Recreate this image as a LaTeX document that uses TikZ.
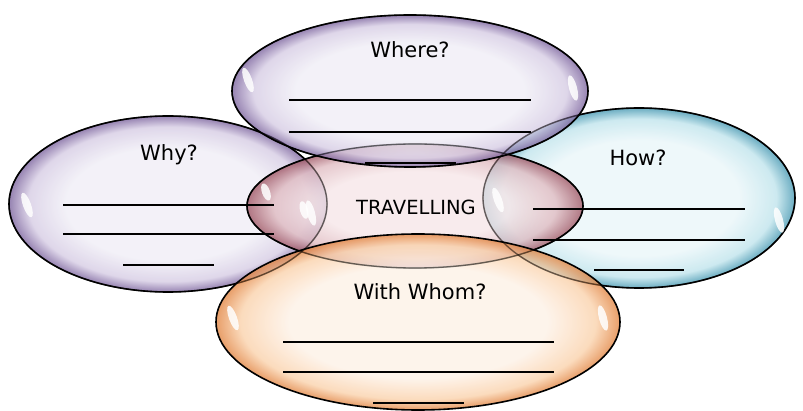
\documentclass[tikz,border=0pt]{standalone}
\usepackage{fontspec}
\setmainfont{DejaVu Sans}
\usetikzlibrary{shapes.geometric}

% bubble colours: light centre, mid tone, darker rim
\definecolor{purpin}{RGB}{240,238,246}
\definecolor{purmid}{RGB}{214,204,228}
\definecolor{purout}{RGB}{124,100,158}
\definecolor{tealin}{RGB}{234,246,249}
\definecolor{tealmid}{RGB}{192,228,236}
\definecolor{tealout}{RGB}{70,152,178}
\definecolor{redin}{RGB}{246,230,232}
\definecolor{redmid}{RGB}{224,188,194}
\definecolor{redout}{RGB}{160,88,102}
\definecolor{orgin}{RGB}{253,241,230}
\definecolor{orgmid}{RGB}{250,210,172}
\definecolor{orgout}{RGB}{226,134,68}

% the ellipse border sits at 25bp of the shading radius
\pgfdeclareradialshading{purbubble}{\pgfpoint{0bp}{0bp}}{color(0bp)=(purpin); color(16bp)=(purpin); color(22bp)=(purmid); color(25bp)=(purout); color(50bp)=(purout)}
\pgfdeclareradialshading{tealbubble}{\pgfpoint{0bp}{0bp}}{color(0bp)=(tealin); color(16bp)=(tealin); color(22bp)=(tealmid); color(25bp)=(tealout); color(50bp)=(tealout)}
\pgfdeclareradialshading{redbubble}{\pgfpoint{0bp}{0bp}}{color(0bp)=(redin); color(14bp)=(redin); color(21bp)=(redmid); color(25bp)=(redout); color(50bp)=(redout)}
\pgfdeclareradialshading{orgbubble}{\pgfpoint{0bp}{0bp}}{color(0bp)=(orgin); color(16bp)=(orgin); color(22bp)=(orgmid); color(25bp)=(orgout); color(50bp)=(orgout)}

\tikzset{
  bubble/.style={ellipse, draw=black, line width=1.6pt, shade, shading=#1,
    fill opacity=0.8, inner sep=0pt, outer sep=0pt},
  rim/.style={ellipse, draw=black, draw opacity=0.5, line width=1.3pt,
    inner sep=0pt, outer sep=0pt},
  glint/.style={ellipse, fill=white, fill opacity=0.85, draw=none, inner sep=0pt,
    minimum width=8pt, minimum height=26pt},
  blank/.style={line width=1.8pt, black},
  label/.style={font=\fontsize{21}{24}\selectfont, text=black}
}

\begin{document}
\begin{tikzpicture}[x=1pt, y=-1pt]
\useasboundingbox (0,0) rectangle (803,411);

% the five bubbles
\node[bubble=purbubble, minimum width=318pt, minimum height=176pt] (why) at (168,204) {};
\node[bubble=tealbubble, minimum width=312pt, minimum height=180pt] (how) at (639,198) {};
\node[bubble=redbubble, minimum width=336pt, minimum height=124pt] (core) at (415,206) {};
\node[bubble=purbubble, minimum width=356pt, minimum height=152pt] (where) at (410,91) {};
\node[bubble=orgbubble, minimum width=404pt, minimum height=176pt] (whom) at (418,322) {};

% outlines showing through the bubbles on top
\node[rim, minimum width=318pt, minimum height=176pt] (whyrim) at (168,204) {};
\node[rim, minimum width=312pt, minimum height=180pt] (howrim) at (639,198) {};
\node[rim, minimum width=336pt, minimum height=124pt] (corerim) at (415,206) {};
\node[rim, minimum width=356pt, minimum height=152pt] (whererim) at (410,91) {};

% highlights
\node[glint, rotate=20] (g1) at (248,80) {};
\node[glint, rotate=15] (g2) at (573,88) {};
\node[glint, rotate=20] (g3) at (27,205) {};
\node[glint, rotate=15] (g4) at (311,213) {};
\node[glint, rotate=20] (g5) at (498,200) {};
\node[glint, rotate=15] (g6) at (779,220) {};
\node[glint, rotate=20] (g7) at (233,318) {};
\node[glint, rotate=15] (g8) at (603,318) {};
\node[glint, rotate=15, minimum height=18pt] (g9) at (304,210) {};
\node[glint, rotate=20, minimum height=18pt] (g10) at (266,192) {};

% headings
\node[label] (twhere) at (410,50) {Where?};
\node[label] (twhy) at (169,155) {Why?};
\node[label] (thow) at (638,158) {How?};
\node[label, font=\fontsize{19.5}{22}\selectfont] (tcore) at (416,207) {TRAVELLING};
\node[label] (twhom) at (420,292) {With Whom?};

% blanks to write on
\draw[blank] (289,100) -- (531,100);
\draw[blank] (289,132) -- (531,132);
\draw[blank] (365,163) -- (456,163);

\draw[blank] (63,205) -- (274,205);
\draw[blank] (63,234) -- (274,234);
\draw[blank] (123,265) -- (214,265);

\draw[blank] (533,209) -- (745,209);
\draw[blank] (533,240) -- (745,240);
\draw[blank] (594,270) -- (684,270);

\draw[blank] (283,342) -- (554,342);
\draw[blank] (283,372) -- (554,372);
\draw[blank] (373,403) -- (464,403);
\end{tikzpicture}
\end{document}
